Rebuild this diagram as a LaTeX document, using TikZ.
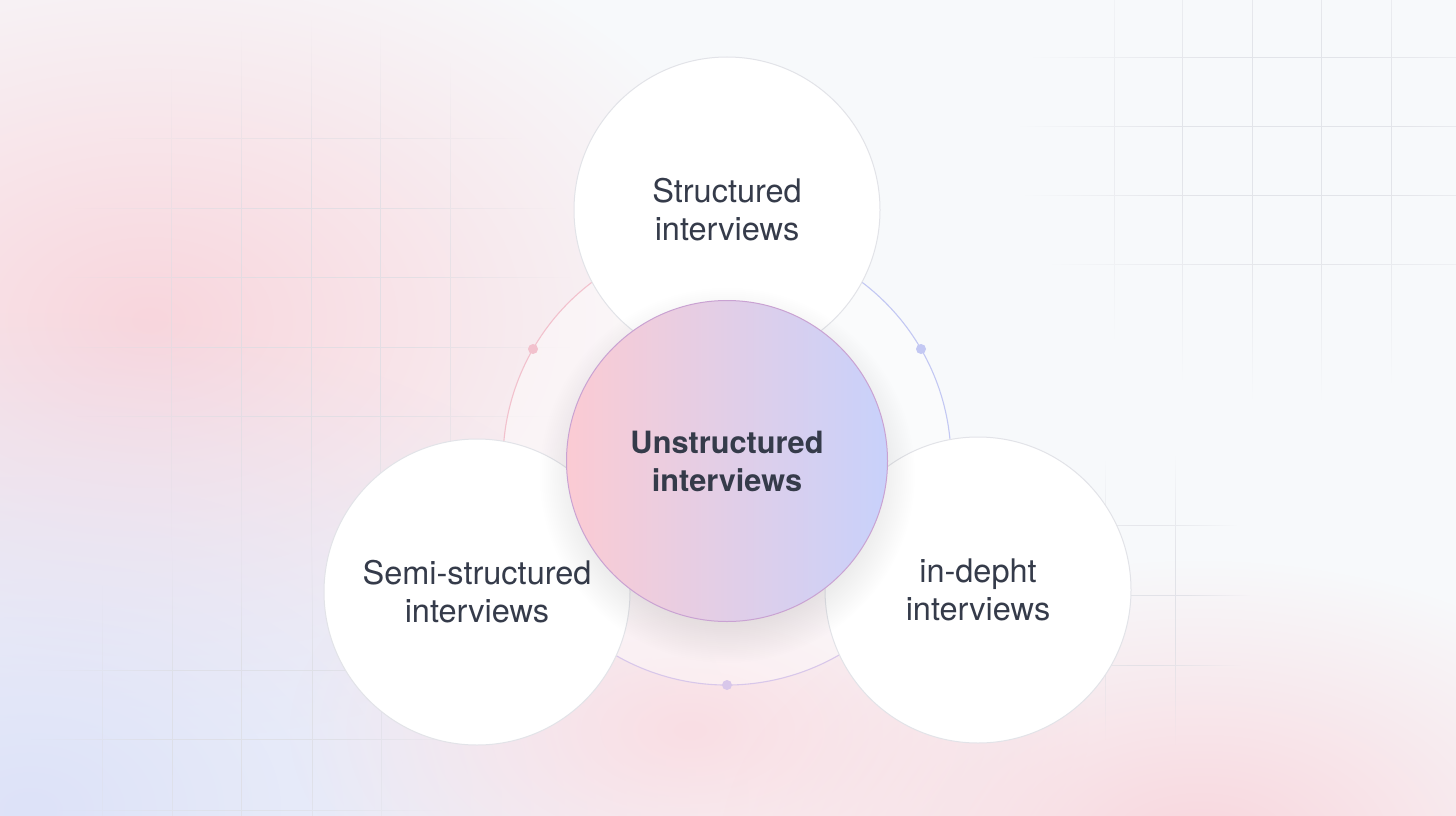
\documentclass[tikz,border=0pt]{standalone}
\usepackage{fontspec}
\setmainfont{TeX Gyre Heros}
\usepackage{xcolor}
\usepackage{tikz}
\usetikzlibrary{positioning, calc, fadings}
\definecolor{bgbase}{HTML}{F7F9FB}
\definecolor{blobpink}{HTML}{F9D6DD}
\definecolor{blobblue}{HTML}{DDE2F8}
\definecolor{gridgray}{HTML}{DCDDE3}
\definecolor{inkdark}{HTML}{353B4A}
\definecolor{ringgray}{HTML}{E2E3E8}
\definecolor{corepink}{HTML}{FBCBD3}
\definecolor{coreblue}{HTML}{C8D1FB}
\definecolor{coreedge}{HTML}{C9A2D2}
\definecolor{arcpink}{HTML}{F2C1CD}
\definecolor{arcblue}{HTML}{C3C8F3}
\definecolor{arclav}{HTML}{D8C7EA}
\tikzfading[name=blobfade, inner color=transparent!0, outer color=transparent!100]
% solid core, soft rim
\pgfdeclareradialshading{hazeshade}{\pgfpoint{0bp}{0bp}}{color(0bp)=(white); color(17bp)=(white); color(25bp)=(black); color(50bp)=(black)}
\pgfdeclarefading{haze}{\pgfuseshading{hazeshade}}
\pgfdeclareradialshading{gridshade}{\pgfpoint{0bp}{0bp}}{color(0bp)=(white); color(10bp)=(white); color(25bp)=(black); color(50bp)=(black)}
\pgfdeclarefading{gridfade}{\pgfuseshading{gridshade}}
\tikzset{
  typenode/.style={circle, draw=ringgray, line width=1pt, fill=white,
                   minimum size=306pt, inner sep=0pt, align=center, text=inkdark,
                   font=\fontsize{32.5}{38}\selectfont},
  corenode/.style={typenode, minimum size=321pt, draw=coreedge,
                   left color=corepink, right color=coreblue,
                   font=\fontsize{30.7}{38}\selectfont\bfseries},
  ringdot/.style={circle, inner sep=0pt, minimum size=10pt},
  ringarc/.style={line width=1.1pt},
  gridline/.style={draw=gridgray, line width=0.9pt, opacity=0.75,
                   path fading=gridfade, fit fading=true},
}

\begin{document}
\begin{tikzpicture}[x=1pt, y=-1pt]
  \useasboundingbox (0,0) rectangle (1456,816);
  % background
  \fill[bgbase] (0,0) rectangle (1456,816);
  \fill[blobpink, path fading=blobfade, fit fading=true] (150,320) ellipse (620 and 420);
  \fill[blobblue, path fading=blobfade, fit fading=true] (30,810) ellipse (720 and 500);
  \fill[blobpink!80, path fading=blobfade, fit fading=true] (690,730) ellipse (400 and 230);
  \fill[blobpink, path fading=blobfade, fit fading=true] (1200,850) ellipse (480 and 290);

  % faint grids
  \draw[gridline] \foreach \gx in {172,242,312,381,451} {(\gx,20) -- (\gx,600)}
                  \foreach \gy in {138,208,277,347,416} {(60,\gy) -- (570,\gy)};
  \draw[gridline] \foreach \gx in {1115,1183,1253,1322,1392} {(\gx,-120) -- (\gx,400)}
                  \foreach \gy in {57,126,195,264} {(1020,\gy) -- (1560,\gy)};
  \draw[gridline] \foreach \gx in {103,173,242,313,382} {(\gx,540) -- (\gx,900)}
                  \foreach \gy in {670,739,810} {(30,\gy) -- (470,\gy)};
  \draw[gridline] \foreach \gx in {1105,1175} {(\gx,450) -- (\gx,750)}
                  \foreach \gy in {525,595,665} {(1040,\gy) -- (1250,\gy)};

  % ring
  \coordinate (hub) at (727,461);
  \fill[white, opacity=0.4] (hub) circle (224);
  \draw[ringarc, draw=arcpink] (hub) ++(150:224) arc[start angle=150, end angle=270, radius=224];
  \draw[ringarc, draw=arcblue] (hub) ++(270:224) arc[start angle=270, end angle=390, radius=224];
  \draw[ringarc, draw=arclav] (hub) ++(30:224) arc[start angle=30, end angle=150, radius=224];
  \path (hub) ++(210:224) node[ringdot, fill=arcpink] (dotl) {};
  \path (hub) ++(330:224) node[ringdot, fill=arcblue] (dotr) {};
  \path (hub) ++(90:224) node[ringdot, fill=arclav] (dotb) {};

  % circles
  \node[typenode] (struct) at (727,210) {Structured\\interviews};
  \node[typenode] (semi) at (477,592) {Semi-structured\\interviews};
  \node[typenode] (depth) at (978,590) {in-depht\\interviews};
  \fill[black, opacity=0.12, path fading=haze, fit fading=true] ($(hub)+(0,14)$) circle (188);
  \node[corenode] (unstruct) at (hub) {Unstructured\\interviews};
\end{tikzpicture}
\end{document}
